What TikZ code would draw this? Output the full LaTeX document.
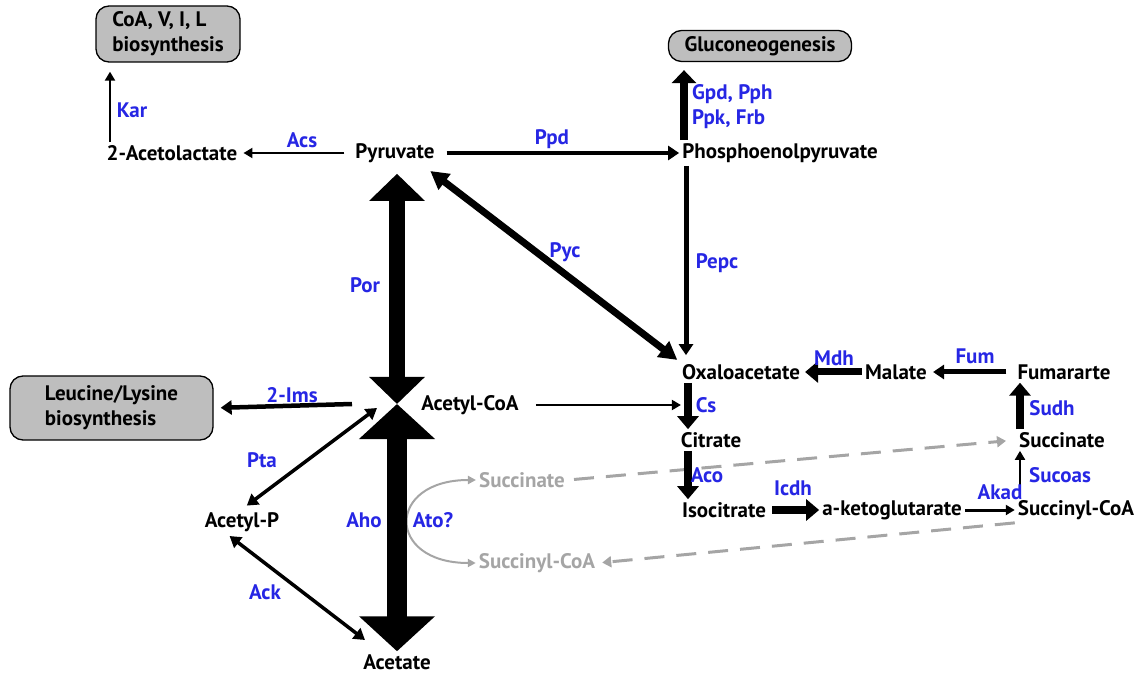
\documentclass[tikz,border=0pt]{standalone}
\usepackage{fontspec}
\setmainfont{PT Sans}
\usetikzlibrary{arrows.meta}
\definecolor{enzblue}{RGB}{38,38,228}
\definecolor{paleg}{RGB}{165,165,165}
\definecolor{boxgray}{RGB}{190,190,190}

\tikzset{
  met/.style={font=\fontsize{21}{25}\selectfont\bfseries, inner sep=3pt},
  enz/.style={met, text=enzblue},
  gmet/.style={met, text=paleg},
  pathbox/.style={met, draw, line width=1.3pt, fill=boxgray, rounded corners=13pt, align=left},
  thinarr/.style={line width=2pt, -{Triangle[length=9pt,width=10pt]}},
  midarr/.style={line width=4.5pt, -{Triangle[length=11pt,width=14pt]}},
  fatarr/.style={line width=7.5pt, -{Triangle[length=13pt,width=21pt]}},
  graydash/.style={paleg, line width=3pt, dash pattern=on 20pt off 12pt, -{Triangle[length=9pt,width=11pt]}},
}

\begin{document}
\begin{tikzpicture}[x=1pt,y=-1pt]
\useasboundingbox (0,0) rectangle (1144,676);
% pathway end boxes
\node[pathbox, minimum width=144pt, minimum height=56pt] (coabox) at (168,34) {CoA, V, I, L\\biosynthesis};
\node[pathbox, minimum width=183pt, minimum height=31pt, align=center] (glubox) at (760,46) {Gluconeogenesis};
\node[pathbox, minimum width=203pt, minimum height=64pt] (leubox) at (111.5,408) {Leucine/Lysine\\biosynthesis};
% metabolites
\node[met] (acl) at (172,153) {2-Acetolactate};
\node[met] (pyr) at (395,153) {Pyruvate};
\node[met] (pep) at (780,153) {Phosphoenolpyruvate};
\node[met] (acoa) at (470,405) {Acetyl-CoA};
\node[met] (acp) at (242,522) {Acetyl-P};
\node[met] (acet) at (397,662) {Acetate};
\node[met] (oaa) at (741,372) {Oxaloacetate};
\node[met] (mal) at (896,372) {Malate};
\node[met] (fum) at (1064,372) {Fumararte};
\node[met] (cit) at (711,440) {Citrate};
\node[met] (suc) at (1062,440) {Succinate};
\node[met] (icit) at (724,510) {Isocitrate};
\node[met] (akg) at (892,510) {a-ketoglutarate};
\node[met] (scoa) at (1076,510) {Succinyl-CoA};
\node[gmet] (gsuc) at (522,480) {Succinate};
\node[gmet] (gscoa) at (537,563) {Succinyl-CoA};
\coordinate (hub) at (397,404);
% grey side route
\draw[paleg, line width=2pt, {Triangle[length=8pt,width=8pt]}-{Triangle[length=8pt,width=8pt]}]
  (gsuc.west) .. controls +(-90,0) and +(-90,0) .. (gscoa.west);
\draw[graydash, shorten <=6pt, shorten >=10pt] (gsuc.east) -- (suc.west);
\draw[graydash, shorten >=4pt] (scoa.south west) -- (gscoa.east);
% reactions
\draw[thinarr, shorten >=9pt] ([xshift=-62pt]acl.north) -- ([xshift=-58pt]coabox.south);
\draw[thinarr, shorten <=8pt, shorten >=3pt] (pyr.west) -- (acl.east);
\draw[midarr, shorten <=9pt] (pyr.east) -- (pep.west);
\draw[line width=8pt, -{Triangle[length=13pt,width=24pt]}, shorten >=8pt] ([xshift=-96pt]pep.north) -- ([xshift=-76pt]glubox.south);
\draw[midarr, line width=5pt, shorten >=6pt] ([xshift=-94pt]pep.south) -- ([xshift=-55pt]oaa.north);
\draw[line width=7pt, {Triangle[length=18pt,width=19pt]}-{Triangle[length=18pt,width=19pt]}, shorten <=2pt, shorten >=2pt] ([xshift=-9pt,yshift=-4pt]pyr.south east) -- (oaa.north west);
\draw[line width=16pt, {Triangle[length=27pt,width=54pt]}-{Triangle[length=27pt,width=54pt]}, shorten <=8pt] ([xshift=2pt]pyr.south) -- (hub);
\draw[line width=20pt, {Triangle[length=35pt,width=74pt]}-{Triangle[length=35pt,width=74pt]}] (hub) -- (acet.north);
\draw[midarr, shorten >=7pt] ([xshift=-45pt]hub) -- (leubox.east);
\draw[thinarr, line width=3.5pt, {Triangle[length=11pt,width=13pt]}-{Triangle[length=11pt,width=13pt]}, shorten <=6pt] (acp.north) -- ([xshift=-20pt,yshift=-4pt]hub);
\draw[thinarr, line width=3.5pt, {Triangle[length=11pt,width=13pt]}-{Triangle[length=11pt,width=13pt]}, shorten <=2pt] ([xshift=-14pt]acp.south) -- ([xshift=-32pt,yshift=-236pt]hub);
\draw[thinarr, shorten <=14pt, shorten >=-2pt] (acoa.east) -- (acoa.east -| oaa.west);
\draw[fatarr] ([xshift=-53pt]oaa.south) -- ([xshift=-23pt]cit.north);
\draw[fatarr] ([xshift=-23pt]cit.south) -- ([xshift=-36pt]icit.north);
\draw[fatarr, line width=8.5pt, shorten <=3pt] (icit.east) -- (akg.west);
\draw[thinarr, line width=3pt] (akg.east) -- (scoa.west);
\draw[thinarr] ([xshift=-56pt]scoa.north) -- ([xshift=-42pt]suc.south);
\draw[fatarr] ([xshift=-42pt]suc.north) -- ([xshift=-44pt]fum.south);
\draw[midarr, line width=5pt, shorten <=8pt, shorten >=3pt] (fum.west) -- (mal.east);
\draw[fatarr, line width=7pt, shorten >=2pt] (mal.west) -- (oaa.east);
% enzyme labels
\node[enz] (kar) at (132,110) {Kar};
\node[enz] (acs) at (302,140) {Acs};
\node[enz] (ppd) at (552,139) {Ppd};
\node[enz, anchor=west, align=left] (gpd) at (689,107) {Gpd, Pph\\Ppk, Frb};
\node[enz] (pepc) at (717,263) {Pepc};
\node[enz] (pyc) at (565,252) {Pyc};
\node[enz] (por) at (365,285) {Por};
\node[enz] (ims) at (292,395) {2-Ims};
\node[enz] (pta) at (262,460) {Pta};
\node[enz] (ack) at (265,592) {Ack};
\node[enz] (aho) at (364,520) {Aho};
\node[enz] (ato) at (433,520) {Ato?};
\node[enz] (cs) at (706,405) {Cs};
\node[enz] (aco) at (707,475) {Aco};
\node[enz] (icdh) at (793,488) {Icdh};
\node[enz] (akad) at (1000,492) {Akad};
\node[enz] (sucoas) at (1060,475) {Sucoas};
\node[enz] (sudh) at (1052,408) {Sudh};
\node[enz] (fumase) at (975,356) {Fum};
\node[enz] (mdh) at (834,358) {Mdh};
\end{tikzpicture}
\end{document}
